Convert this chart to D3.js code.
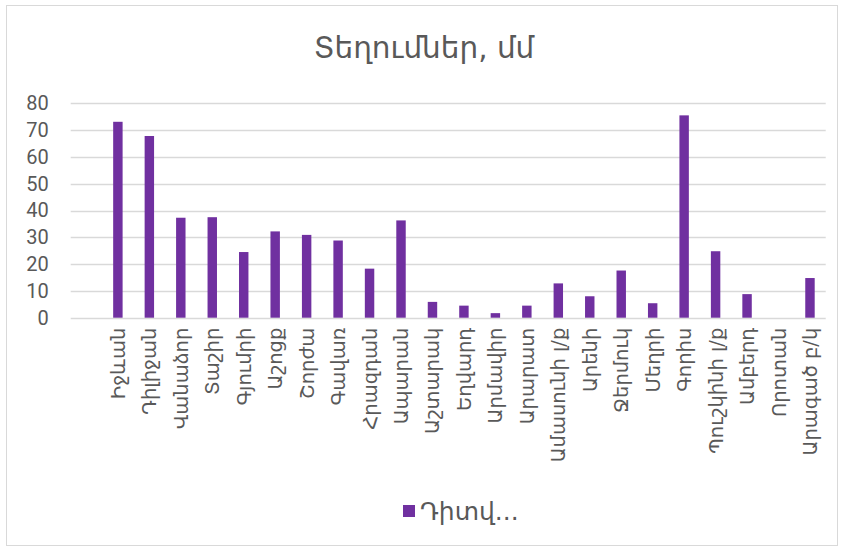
<!DOCTYPE html>
<html>
<head>
<meta charset="utf-8">
<script src="https://cdn.jsdelivr.net/npm/d3@7"></script>
<style>
  body { margin: 0; background: #fff; }
  svg text { fill: #595959; }
</style>
</head>
<body>
<div id="chart"></div>
<script>
const title = "Տեղումներ, մմ";
const seriesName = "Դիտվ...";

// first slot is empty in the original sheet
const stations = [
  "", "Իջևան", "Դիլիջան", "Վանաձոր", "Տաշիր", "Գյումրի", "Աշոցք", "Շորժա",
  "Գավառ", "Հրազդան", "Ապարան", "Աշտարակ", "Եղվարդ", "Արմավիր", "Արարատ",
  "Ամասունի լ/ք", "Արենի", "Ջերմուկ", "Մեղրի", "Գորիս", "Պուշկինի լ/ք",
  "Ամբերդ", "Որոտան", "Արագած բ/կ"
];
const precip = [
  null, 73.1, 67.8, 37.3, 37.5, 24.5, 32.2, 30.9,
  28.8, 18.3, 36.3, 5.9, 4.5, 1.7, 4.5,
  12.8, 8.0, 17.6, 5.4, 75.5, 24.8,
  8.8, null, 14.8
];
const yTicks = [0, 10, 20, 30, 40, 50, 60, 70, 80];

const width = 844;
const height = 548;
const margin = { top: 103.3, right: 18.3, bottom: 230.3, left: 70.7 };
const armFont = "'DejaVu Sans', sans-serif";

const data = stations.map((s, i) => ({ name: s, value: precip[i], key: i }));

const svg = d3.select("#chart")
  .append("svg")
  .attr("width", width)
  .attr("height", height);

// chart frame
svg.append("rect")
  .attr("x", 6.5).attr("y", 5.5)
  .attr("width", 831).attr("height", 540)
  .attr("fill", "#fff")
  .attr("stroke", "#d9d9d9");

svg.append("text")
  .attr("x", 424)
  .attr("y", 58)
  .attr("text-anchor", "middle")
  .style("font-family", armFont)
  .style("font-size", "29.5px")
  .text(title);

const x = d3.scaleBand()
  .domain(data.map(d => d.key))
  .range([margin.left, width - margin.right])
  .paddingInner(0.7)
  .paddingOuter(0.35);

const y = d3.scaleLinear()
  .domain([0, 80])
  .range([height - margin.bottom, margin.top]);

// gridlines
svg.append("g")
  .selectAll("line")
  .data(yTicks)
  .enter()
  .append("line")
  .attr("x1", margin.left)
  .attr("x2", width - margin.right)
  .attr("y1", d => Math.round(y(d)) + 0.5)
  .attr("y2", d => Math.round(y(d)) + 0.5)
  .attr("stroke", "#d9d9d9")
  .attr("stroke-width", 1.3);

const yAxis = svg.append("g")
  .attr("transform", `translate(${margin.left - 22},0)`)
  .call(d3.axisLeft(y).tickValues(yTicks).tickSize(0).tickPadding(0));
yAxis.select(".domain").remove();
yAxis.selectAll("text")
  .style("font-family", "Roboto, sans-serif")
  .style("font-size", "20px")
  .style("fill", "#595959");

svg.append("g")
  .selectAll("rect")
  .data(data.filter(d => d.value != null))
  .enter()
  .append("rect")
  .attr("x", d => x(d.key))
  .attr("y", d => y(d.value))
  .attr("width", x.bandwidth())
  .attr("height", d => y(0) - y(d.value))
  .attr("fill", "#7030a0");

// rotated category labels
svg.append("g")
  .selectAll("text")
  .data(data)
  .enter()
  .append("text")
  .attr("transform", d => `translate(${x(d.key) + x.bandwidth() / 2 + 7},${y(0) + 10}) rotate(-90)`)
  .attr("text-anchor", "end")
  .style("font-family", armFont)
  .style("font-size", "19.5px")
  .text(d => d.name);

// legend
const legend = svg.append("g").attr("transform", "translate(403,505)");
legend.append("rect")
  .attr("width", 12).attr("height", 12)
  .attr("fill", "#7030a0");
legend.append("text")
  .attr("x", 17)
  .attr("y", 15)
  .style("font-family", armFont)
  .style("font-size", "25px")
  .text(seriesName);
</script>
</body>
</html>
